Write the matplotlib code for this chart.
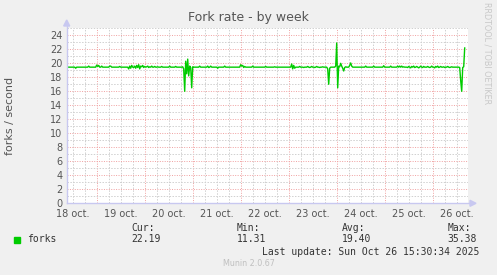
import numpy as np
import matplotlib
matplotlib.use("Agg")
import matplotlib.pyplot as plt

# Datos: forks/segundo, una muestra cada 30 min desde 18 oct 09:00
start_hour = 9.0
step_hours = 0.5
forks = [
    # 18 oct 09:00 - 19:00
    19.45, 19.45, 19.45, 19.45, 19.45, 19.45, 19.45, 19.45, 19.45, 19.30,
    19.45, 19.45, 19.45, 19.45, 19.45, 19.45, 19.45, 19.45, 19.45, 19.45,
    19.45, 19.45, 19.60, 19.45, 19.45, 19.45, 19.45, 19.45, 19.45, 19.45,
    19.75, 19.55, 19.70, 19.45, 19.45, 19.60, 19.45, 19.45, 19.45, 19.45,
    # 19 oct
    19.45, 19.45, 19.45, 19.60, 19.60, 19.45, 19.45, 19.45, 19.45, 19.45,
    19.45, 19.45, 19.45, 19.55, 19.45, 19.45, 19.45, 19.45, 19.45, 19.45,
    19.45, 19.45, 19.20, 19.60, 19.30, 19.70, 19.45, 19.40, 19.60, 19.30,
    19.70, 19.40, 19.80, 19.20, 19.60, 19.50, 19.70, 19.40, 19.55, 19.45,
    19.50, 19.60, 19.40, 19.50, 19.45, 19.60, 19.45, 19.45, 19.55, 19.45,
    19.45, 19.50, 19.45, 19.45, 19.45, 19.55, 19.45, 19.45, 19.45, 19.45,
    # 20 oct
    19.45, 19.45, 19.45, 19.60, 19.45, 19.45, 19.45, 19.45, 19.45, 19.55,
    19.45, 19.45, 19.45, 19.45, 19.45, 19.45, 19.50, 19.20, 16.00, 20.30,
    18.50, 20.60, 18.20, 19.60, 19.40, 16.50, 19.50, 19.45, 19.45, 19.45,
    19.45, 19.45, 19.45, 19.60, 19.45, 19.45, 19.45, 19.45, 19.45, 19.45,
    19.45, 19.60, 19.40, 19.45, 19.60, 19.45, 19.45, 19.45, 19.45, 19.45,
    19.45, 19.30, 19.45, 19.45, 19.45, 19.45, 19.45, 19.45, 19.60, 19.45,
    # 21 oct
    19.45, 19.45, 19.45, 19.45, 19.45, 19.45, 19.45, 19.45, 19.45, 19.45,
    19.45, 19.45, 19.45, 19.45, 19.80, 19.60, 19.70, 19.40, 19.55, 19.45,
    19.45, 19.45, 19.45, 19.45, 19.45, 19.45, 19.60, 19.45, 19.45, 19.45,
    19.45, 19.45, 19.45, 19.45, 19.45, 19.45, 19.45, 19.45, 19.45, 19.55,
    19.45, 19.45, 19.45, 19.45, 19.45, 19.45, 19.45, 19.45, 19.50, 19.45,
    19.45, 19.45, 19.45, 19.45, 19.45, 19.45, 19.45, 19.45, 19.45, 19.45,
    # 22-23 oct
    19.45, 19.45, 19.45, 19.45, 19.45, 19.90, 19.20, 19.70, 19.30, 19.45,
    19.45, 19.45, 19.45, 19.55, 19.45, 19.45, 19.45, 19.40, 19.45, 19.45,
    19.45, 19.55, 19.45, 19.40, 19.45, 19.55, 19.45, 19.45, 19.40, 19.45,
    19.55, 19.45, 19.45, 19.40, 19.45, 19.45, 19.50, 19.45, 19.45, 19.45,
    19.45, 19.20, 17.00, 19.30, 19.45, 19.45, 19.45, 19.45, 19.45, 19.60,
    22.90, 16.50, 19.60, 19.50, 20.00, 19.60, 19.30, 18.90, 19.40, 19.50,
    # 24 oct
    19.45, 19.45, 19.45, 19.70, 20.05, 19.60, 19.45, 19.45, 19.45, 19.45,
    19.45, 19.45, 19.45, 19.45, 19.45, 19.45, 19.45, 19.45, 19.45, 19.60,
    19.45, 19.45, 19.45, 19.45, 19.45, 19.45, 19.45, 19.60, 19.45, 19.45,
    19.45, 19.45, 19.45, 19.45, 19.45, 19.45, 19.45, 19.65, 19.45, 19.45,
    19.45, 19.45, 19.45, 19.45, 19.60, 19.45, 19.45, 19.45, 19.45, 19.45,
    19.45, 19.60, 19.45, 19.60, 19.45, 19.60, 19.45, 19.50, 19.45, 19.45,
    # 25-26 oct
    19.45, 19.40, 19.55, 19.45, 19.35, 19.55, 19.45, 19.60, 19.40, 19.45,
    19.55, 19.45, 19.35, 19.45, 19.60, 19.45, 19.40, 19.55, 19.45, 19.45,
    19.45, 19.55, 19.45, 19.40, 19.45, 19.60, 19.45, 19.45, 19.35, 19.55,
    19.45, 19.60, 19.40, 19.45, 19.55, 19.45, 19.45, 19.50, 19.40, 19.45,
    19.45, 19.55, 19.45, 19.40, 19.45, 19.50, 19.45, 19.45, 19.45, 19.45,
    19.45, 19.45, 19.45, 19.40, 17.50, 16.00, 19.40, 19.50, 22.19,
]

day_labels = ["18 oct.", "19 oct.", "20 oct.", "21 oct.", "22 oct.",
              "23 oct.", "24 oct.", "25 oct.", "26 oct."]
legend_name = "forks"
stat_names = ["Cur:", "Min:", "Avg:", "Max:"]
stat_values = ["22.19", "11.31", "19.40", "35.38"]
last_update = "Last update: Sun Oct 26 15:30:34 2025"

horas = start_hour + step_hours * np.arange(len(forks))

W, H = 497, 275
fig = plt.figure(figsize=(W / 100, H / 100), dpi=100)
fig.patch.set_facecolor("#F0F0F0")

def fx(px):
    return px / W

def fy(py):
    return 1 - py / H

x0, x1 = 66.7, 468.0
y0, y1 = 203.3, 28.3
ax = fig.add_axes([fx(x0), fy(y0), fx(x1) - fx(x0), fy(y1) - fy(y0)])
ax.set_facecolor("white")
ax.set_xlim(9.0, 209.65)
ax.set_ylim(0, 25)
for s in ax.spines.values():
    s.set_visible(False)

# rejilla estilo rrdtool
for h in np.arange(12, 210, 6):
    if h % 24 == 0:
        ax.axvline(h, color="#F0A0A0", lw=0.7, ls=(0, (1, 1.5)), zorder=1)
    else:
        ax.axvline(h, color="#D0D0D0", lw=0.7, ls=(0, (1.5, 1.5)), zorder=1)
for v in range(1, 26):
    if v % 2 == 0:
        ax.axhline(v, color="#F0A0A0", lw=0.7, ls=(0, (1, 1.5)), zorder=1)
    else:
        ax.axhline(v, color="#D0D0D0", lw=0.7, ls=(0, (1.5, 1.5)), zorder=1)

ax.plot(horas, forks, color="#00CC00", lw=1.0, zorder=3)

ax.set_xticks(12 + 24 * np.arange(len(day_labels)))
ax.set_xticklabels(day_labels)
ax.set_yticks(range(0, 25, 2))
ax.tick_params(length=0, labelsize=7, colors="#555555")
ax.tick_params(axis="x", pad=4)
ax.tick_params(axis="y", pad=3)
ax.set_ylabel("forks / second", fontsize=8, color="#555555")
ax.yaxis.set_label_coords((15 - x0) / (x1 - x0), 0.5)

# ejes con flecha
ax_col = "#C8C8F0"
fig.add_artist(plt.Line2D([fx(x0), fx(x0)], [fy(y0), fy(24)], color=ax_col, lw=1))
fig.add_artist(plt.Line2D([fx(x0), fx(472)], [fy(y0), fy(y0)], color=ax_col, lw=1))
fig.add_artist(plt.Polygon([[fx(x0 - 3), fy(26)], [fx(x0 + 3), fy(26)], [fx(x0), fy(20)]],
                           closed=True, color=ax_col, transform=fig.transFigure))
fig.add_artist(plt.Polygon([[fx(470), fy(y0 - 3)], [fx(470), fy(y0 + 3)], [fx(476), fy(y0)]],
                           closed=True, color=ax_col, transform=fig.transFigure))

fig.text(0.5, fy(18), "Fork rate - by week", ha="center", va="center",
         fontsize=9, color="#555555")
fig.text(fx(487), fy(53), "RRDTOOL / TOBI OETIKER", rotation=270, ha="center",
         va="center", fontsize=5.8, color="#C8C8C8")

mono = "DejaVu Sans Mono"
fig.add_artist(plt.Rectangle((fx(14), fy(242.5)), fx(6), 6 / H, color="#00CC00",
                             transform=fig.transFigure))
fig.text(fx(26.7), fy(239.5), legend_name, family=mono, fontsize=7,
         color="#333333", va="center")
for xs, nm, val in zip([131.7, 237.0, 342.3, 447.3], stat_names, stat_values):
    fig.text(fx(xs), fy(227.7), nm, family=mono, fontsize=7, color="#333333", va="center")
    fig.text(fx(xs), fy(239.5), val, family=mono, fontsize=7, color="#333333", va="center")
fig.text(fx(261.7), fy(251.7), last_update, family=mono, fontsize=7,
         color="#333333", va="center")
fig.text(0.5, fy(264), "Munin 2.0.67", ha="center", va="center", fontsize=5.8,
         color="#C0C0C0")

fig.savefig("out.png", dpi=100, facecolor=fig.get_facecolor())
